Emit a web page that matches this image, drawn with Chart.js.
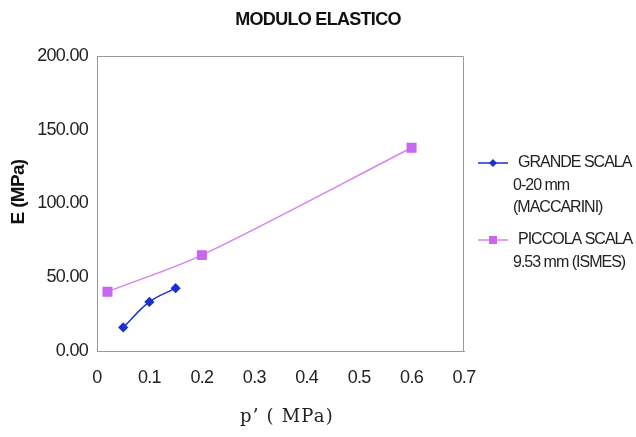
<!DOCTYPE html>
<html>
<head>
<meta charset="utf-8">
<script src="https://cdn.jsdelivr.net/npm/chart.js@4/dist/chart.umd.min.js"></script>
<style>
  html, body { margin: 0; padding: 0; background: #fff; }
  #wrap { width: 636px; height: 437px; }
</style>
</head>
<body>
<div id="wrap"><canvas id="chart-modulo"></canvas></div>
<script>
'use strict';

// values
const grandeP = [0.05, 0.1, 0.15];
const grandeE = [16, 33.3, 42.6];
const piccolaP = [0.02, 0.2, 0.6];
const piccolaE = [40.2, 65, 137.8];
const grandeLabel = ['GRANDE SCALA', '0-20 mm', '(MACCARINI)'];
const piccolaLabel = ['PICCOLA SCALA', '9.53 mm (ISMES)'];
const xTicks = [0, 0.1, 0.2, 0.3, 0.4, 0.5, 0.6, 0.7];
const yTicks = [0, 50, 100, 150, 200];

const titleText = 'MODULO ELASTICO';
const xTitle = 'p’ ( MPa)';
const yTitle = 'E (MPa)';

const blue = '#1a30d2';
const pink = '#d684f0';
const pinkMarker = '#c866f0';
const sans = '"Liberation Sans", Arial, sans-serif';

function toPoints(xs, ys) {
    return xs.map((x, i) => ({x: x, y: ys[i]}));
}

/**
 * Excel-ish text is set tighter than canvas default,
 * canvas resets state on resize so set it on every update/draw
 */
const tightText = {
    id: 'tightText',
    beforeUpdate(chart) { chart.ctx.letterSpacing = '-0.7px'; },
    beforeDraw(chart) { chart.ctx.letterSpacing = '-0.7px'; }
};

/**
 * Titles drawn by hand so they sit where the original has them
 */
const titles = {
    id: 'titles',
    afterDraw(chart) {
        const ctx = chart.ctx;
        ctx.save();
        ctx.textAlign = 'center';
        ctx.textBaseline = 'middle';

        ctx.fillStyle = '#111';
        ctx.letterSpacing = '-0.7px';
        ctx.font = 'bold 18px ' + sans;
        ctx.fillText(titleText, 318, 20);

        ctx.save();
        ctx.translate(19, 192);
        ctx.rotate(-Math.PI / 2);
        ctx.font = 'bold 19px ' + sans;
        ctx.fillText(yTitle, 0, 0);
        ctx.restore();

        ctx.fillStyle = '#222';
        ctx.letterSpacing = '1.2px';
        ctx.font = '18px "DejaVu Serif", serif';
        ctx.fillText(xTitle, 287, 417);
        ctx.restore();
    }
};

/**
 * Legend at the right with wrapped labels, Chart.js legend can't do multi-line
 */
const sideLegend = {
    id: 'sideLegend',
    afterDraw(chart) {
        const ctx = chart.ctx;
        const x0 = 478, x1 = 508;
        let y = 163;
        ctx.save();
        ctx.letterSpacing = '-1px';
        ctx.font = '16px ' + sans;
        ctx.textBaseline = 'middle';
        chart.data.datasets.forEach(ds => {
            ctx.strokeStyle = ds.borderColor;
            ctx.lineWidth = 1.5;
            ctx.beginPath();
            ctx.moveTo(x0, y);
            ctx.lineTo(x1, y);
            ctx.stroke();
            ctx.fillStyle = ds.pointBackgroundColor;
            const cx = (x0 + x1) / 2;
            if (ds.pointStyle === 'rectRot') {
                ctx.beginPath();
                ctx.moveTo(cx, y - 4);
                ctx.lineTo(cx + 4, y);
                ctx.lineTo(cx, y + 4);
                ctx.lineTo(cx - 4, y);
                ctx.closePath();
                ctx.fill();
            } else {
                ctx.fillRect(cx - 4, y - 4, 8, 8);
            }
            ctx.fillStyle = '#222';
            ds.legendLines.forEach((line, i) => {
                ctx.fillText(line, i === 0 ? 518 : 513, y + i * 22.5);
            });
            y += (ds.legendLines.length - 1) * 22.5 + 32;
        });
        ctx.restore();
    }
};

const frame = {
    // top and right plot border like the original
    id: 'frame',
    beforeDatasetsDraw(chart) {
        const a = chart.chartArea;
        const ctx = chart.ctx;
        ctx.save();
        ctx.strokeStyle = '#999';
        ctx.lineWidth = 1;
        ctx.beginPath();
        ctx.moveTo(a.left, a.top + 0.5);
        ctx.lineTo(a.right - 0.5, a.top + 0.5);
        ctx.lineTo(a.right - 0.5, a.bottom);
        ctx.stroke();
        ctx.restore();
    }
};

const canvas = document.getElementById('chart-modulo');

new Chart(canvas.getContext('2d'), {
    type: 'scatter',
    data: {
        datasets: [{
            label: grandeLabel.join(' '),
            legendLines: grandeLabel,
            data: toPoints(grandeP, grandeE),
            showLine: true,
            tension: 0.4,
            borderColor: blue,
            borderWidth: 1.5,
            pointStyle: 'rectRot',
            pointRadius: 4,
            pointBackgroundColor: blue,
            pointBorderColor: blue
        }, {
            label: piccolaLabel.join(' '),
            legendLines: piccolaLabel,
            data: toPoints(piccolaP, piccolaE),
            showLine: true,
            tension: 0.3,
            borderColor: pink,
            borderWidth: 1.5,
            pointStyle: 'rect',
            pointRadius: 6,
            pointBackgroundColor: pinkMarker,
            pointBorderColor: pinkMarker
        }]
    },
    options: {
        responsive: true,
        maintainAspectRatio: false,
        animation: false,
        layout: {padding: {left: 0, right: 172, top: 56, bottom: 0}},
        plugins: {
            legend: {display: false},
            tooltip: {enabled: false},
            title: {display: false}
        },
        scales: {
            x: {
                type: 'linear',
                min: 0,
                max: 0.7,
                afterBuildTicks: axis => {
                    axis.ticks = xTicks.map(v => ({value: v}));
                },
                afterFit: axis => { axis.height = 86; },
                grid: {display: false, drawTicks: true, tickLength: 4, tickColor: '#999'},
                border: {color: '#999', width: 1},
                ticks: {
                    color: '#222',
                    padding: 12,
                    maxRotation: 0,
                    font: {family: sans, size: 18},
                    callback: v => String(v)
                }
            },
            y: {
                min: 0,
                max: 200,
                afterBuildTicks: axis => {
                    axis.ticks = yTicks.map(v => ({value: v}));
                },
                afterFit: axis => { axis.width = 97; },
                grid: {display: false, drawTicks: true, tickLength: 4, tickColor: '#999'},
                border: {color: '#999', width: 1},
                ticks: {
                    color: '#222',
                    padding: 5,
                    font: {family: sans, size: 18},
                    callback: v => v.toFixed(2)
                }
            }
        }
    },
    plugins: [tightText, frame, titles, sideLegend]
});
</script>
</body>
</html>
